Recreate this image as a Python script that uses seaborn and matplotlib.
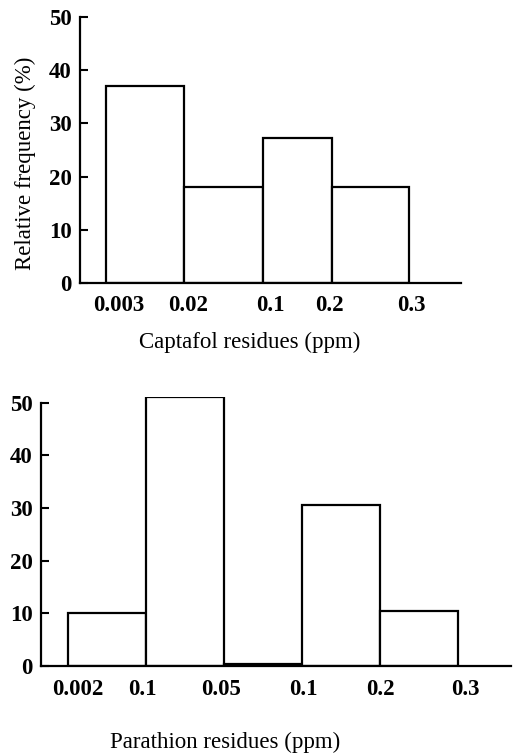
import matplotlib
matplotlib.use("Agg")
import matplotlib.pyplot as plt
import matplotlib.transforms as mtransforms
import seaborn as sns
import numpy as np

# Captafol panel: bin edges (in bar-width units), heights, tick labels
captafolEdges = [0, 1, 2, 2.88, 3.86]
captafolFreq = [37, 18, 27.3, 18]
captafolLabels = ["0.003", "0.02", "0.1", "0.2", "0.3"]

# Parathion panel
parathionEdges = [0, 1, 2, 3, 4, 5]
parathionFreq = [10, 51, 0.3, 30.5, 10.5]
parathionLabels = ["0.002", "0.1", "0.05", "0.1", "0.2", "0.3"]

sns.set_theme(style="ticks")
plt.rcParams['font.family'] = ['Liberation Serif', 'DejaVu Serif']

def makeHist(fig, ax, edges, freq, labels, xlim, ytop, shifts, xLabel, xCoords, yLabel):
    mids = [(edges[i] + edges[i + 1]) / 2 for i in range(len(freq))]
    sns.histplot(x=mids, weights=freq, bins=edges, stat="count", fill=True,
                 color="white", edgecolor="black", linewidth=1.6, alpha=1, ax=ax)
    ax.set_xlim(xlim)
    ax.set_ylim(0, ytop)
    ax.set_yticks([0, 10, 20, 30, 40, 50])
    ax.set_xticks(edges)
    ax.set_xticklabels(labels)
    ax.tick_params(axis="y", direction="in", length=6, width=1.5, colors="black",
                   labelsize=16.5, pad=6)
    ax.tick_params(axis="x", length=0, colors="black", labelsize=16.5, pad=9)
    for lab in ax.get_xticklabels() + ax.get_yticklabels():
        lab.set_fontweight("bold")
    # nudge x tick labels the way they sit in the print
    for lab, dx in zip(ax.get_xticklabels(), shifts):
        lab.set_transform(lab.get_transform() + mtransforms.ScaledTranslation(dx / 100, 0, fig.dpi_scale_trans))
    sns.despine(ax=ax)
    ax.spines["left"].set_bounds(0, 50)
    ax.spines["left"].set_linewidth(1.6)
    ax.spines["bottom"].set_linewidth(1.6)
    ax.spines["left"].set_color("black")
    ax.spines["bottom"].set_color("black")
    ax.set_xlabel(xLabel, fontsize=16.5, color="black")
    ax.xaxis.set_label_coords(*xCoords)
    ax.set_ylabel(yLabel, fontsize=16.5, color="black")
    ax.yaxis.set_label_coords(-0.115, 0.45)

fig = plt.figure(figsize=(5.18, 7.54), dpi=100)
ax1 = fig.add_axes([0.1544, 0.6247, 0.7356, 0.3528])
ax2 = fig.add_axes([0.0792, 0.1167, 0.9073, 0.3563])

makeHist(fig, ax1, captafolEdges, captafolFreq, captafolLabels, (-0.33, 4.52), 50,
         [13, 4, 7, -3, 2], "Captafol residues (ppm)", (0.446, -0.184), "Relative frequency (%)")
makeHist(fig, ax2, parathionEdges, parathionFreq, parathionLabels, (-0.35, 5.68), 51,
         [10, -4, -3, 1, 0, 7], "Parathion residues (ppm)", (0.391, -0.244), "")

plt.savefig("out.png", dpi=100)
plt.close()
